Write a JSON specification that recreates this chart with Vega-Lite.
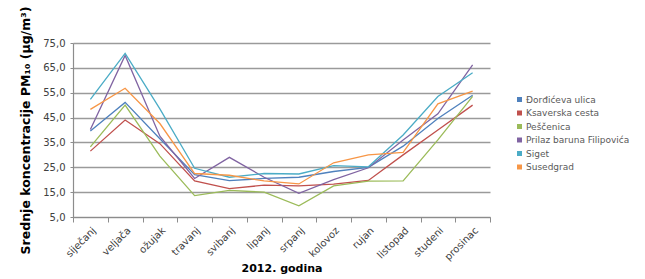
{
  "$schema": "https://vega.github.io/schema/vega-lite/v6.json",
  "autosize": "none",
  "width": 417,
  "height": 174,
  "padding": {"left": 73, "top": 43, "right": 155, "bottom": 62},
  "background": "white",
  "config": {
    "font": "DejaVu Sans",
    "view": {"stroke": null},
    "axis": {"labelColor": "#404040", "titleColor": "#000000", "domainColor": "#8c8c8c", "tickColor": "#8c8c8c"}
  },
  "data": {
    "values": [
      {"m": "siječanj", "s": "Đorđićeva ulica", "v": 39.6},
      {"m": "veljača", "s": "Đorđićeva ulica", "v": 51.1},
      {"m": "ožujak", "s": "Đorđićeva ulica", "v": 36.5},
      {"m": "travanj", "s": "Đorđićeva ulica", "v": 22.0},
      {"m": "svibanj", "s": "Đorđićeva ulica", "v": 19.6},
      {"m": "lipanj", "s": "Đorđićeva ulica", "v": 20.5},
      {"m": "srpanj", "s": "Đorđićeva ulica", "v": 21.0},
      {"m": "kolovoz", "s": "Đorđićeva ulica", "v": 23.3},
      {"m": "rujan", "s": "Đorđićeva ulica", "v": 25.0},
      {"m": "listopad", "s": "Đorđićeva ulica", "v": 33.5},
      {"m": "studeni", "s": "Đorđićeva ulica", "v": 44.6},
      {"m": "prosinac", "s": "Đorđićeva ulica", "v": 54.0},
      {"m": "siječanj", "s": "Ksaverska cesta", "v": 31.5},
      {"m": "veljača", "s": "Ksaverska cesta", "v": 44.0},
      {"m": "ožujak", "s": "Ksaverska cesta", "v": 34.5},
      {"m": "travanj", "s": "Ksaverska cesta", "v": 19.5},
      {"m": "svibanj", "s": "Ksaverska cesta", "v": 16.4},
      {"m": "lipanj", "s": "Ksaverska cesta", "v": 17.8},
      {"m": "srpanj", "s": "Ksaverska cesta", "v": 17.5},
      {"m": "kolovoz", "s": "Ksaverska cesta", "v": 18.2},
      {"m": "rujan", "s": "Ksaverska cesta", "v": 19.7},
      {"m": "listopad", "s": "Ksaverska cesta", "v": 30.0},
      {"m": "studeni", "s": "Ksaverska cesta", "v": 40.0},
      {"m": "prosinac", "s": "Ksaverska cesta", "v": 50.0},
      {"m": "siječanj", "s": "Peščenica", "v": 33.2},
      {"m": "veljača", "s": "Peščenica", "v": 50.0},
      {"m": "ožujak", "s": "Peščenica", "v": 29.5},
      {"m": "travanj", "s": "Peščenica", "v": 13.6},
      {"m": "svibanj", "s": "Peščenica", "v": 15.7},
      {"m": "lipanj", "s": "Peščenica", "v": 15.0},
      {"m": "srpanj", "s": "Peščenica", "v": 9.5},
      {"m": "kolovoz", "s": "Peščenica", "v": 17.5},
      {"m": "rujan", "s": "Peščenica", "v": 19.4},
      {"m": "listopad", "s": "Peščenica", "v": 19.5},
      {"m": "studeni", "s": "Peščenica", "v": 36.0},
      {"m": "prosinac", "s": "Peščenica", "v": 53.5},
      {"m": "siječanj", "s": "Prilaz baruna Filipovića", "v": 40.2},
      {"m": "veljača", "s": "Prilaz baruna Filipovića", "v": 70.0},
      {"m": "ožujak", "s": "Prilaz baruna Filipovića", "v": 37.5},
      {"m": "travanj", "s": "Prilaz baruna Filipovića", "v": 20.5},
      {"m": "svibanj", "s": "Prilaz baruna Filipovića", "v": 29.0},
      {"m": "lipanj", "s": "Prilaz baruna Filipovića", "v": 21.0},
      {"m": "srpanj", "s": "Prilaz baruna Filipovića", "v": 14.5},
      {"m": "kolovoz", "s": "Prilaz baruna Filipovića", "v": 20.0},
      {"m": "rujan", "s": "Prilaz baruna Filipovića", "v": 24.8},
      {"m": "listopad", "s": "Prilaz baruna Filipovića", "v": 36.0},
      {"m": "studeni", "s": "Prilaz baruna Filipovića", "v": 46.5},
      {"m": "prosinac", "s": "Prilaz baruna Filipovića", "v": 66.2},
      {"m": "siječanj", "s": "Siget", "v": 52.3},
      {"m": "veljača", "s": "Siget", "v": 70.8},
      {"m": "ožujak", "s": "Siget", "v": 48.5},
      {"m": "travanj", "s": "Siget", "v": 24.6},
      {"m": "svibanj", "s": "Siget", "v": 21.0},
      {"m": "lipanj", "s": "Siget", "v": 22.5},
      {"m": "srpanj", "s": "Siget", "v": 22.3},
      {"m": "kolovoz", "s": "Siget", "v": 25.7},
      {"m": "rujan", "s": "Siget", "v": 25.2},
      {"m": "listopad", "s": "Siget", "v": 38.0},
      {"m": "studeni", "s": "Siget", "v": 53.5},
      {"m": "prosinac", "s": "Siget", "v": 63.0},
      {"m": "siječanj", "s": "Susedgrad", "v": 48.3},
      {"m": "veljača", "s": "Susedgrad", "v": 56.8},
      {"m": "ožujak", "s": "Susedgrad", "v": 42.6},
      {"m": "travanj", "s": "Susedgrad", "v": 22.5},
      {"m": "svibanj", "s": "Susedgrad", "v": 21.8},
      {"m": "lipanj", "s": "Susedgrad", "v": 19.5},
      {"m": "srpanj", "s": "Susedgrad", "v": 18.3},
      {"m": "kolovoz", "s": "Susedgrad", "v": 26.8},
      {"m": "rujan", "s": "Susedgrad", "v": 30.0},
      {"m": "listopad", "s": "Susedgrad", "v": 31.0},
      {"m": "studeni", "s": "Susedgrad", "v": 50.5},
      {"m": "prosinac", "s": "Susedgrad", "v": 55.6}
    ]
  },
  "mark": {"type": "line", "strokeWidth": 1.3},
  "encoding": {
    "x": {
      "field": "m",
      "type": "nominal",
      "sort": null,
      "bandPosition": 0.5,
      "scale": {"type": "band", "paddingInner": 0, "paddingOuter": 0},
      "axis": {
        "title": "2012. godina",
        "titleFontSize": 11,
        "titleFontWeight": "bold",
        "titlePadding": 1,
        "labelAngle": -45,
        "labelFontSize": 10,
        "labelPadding": 3,
        "tickBand": "extent",
        "tickSize": 5,
        "grid": false,
        "domainWidth": 1.2
      }
    },
    "y": {
      "field": "v",
      "type": "quantitative",
      "scale": {"domain": [5, 75], "nice": false, "zero": false},
      "axis": {
        "title": "Srednje koncentracije PM₁₀ (μg/m³)",
        "titleFontSize": 12.5,
        "titleFontWeight": "bold",
        "titlePadding": 10,
        "values": [5, 15, 25, 35, 45, 55, 65, 75],
        "labelExpr": "replace(format(datum.value, '.1f'), '.', ',')",
        "labelFontSize": 10,
        "labelPadding": 5,
        "tickSize": 3,
        "grid": true,
        "gridColor": "#9a9a9a",
        "gridWidth": 1.3,
        "domainWidth": 1.2
      }
    },
    "color": {
      "field": "s",
      "type": "nominal",
      "scale": {
        "domain": ["Đorđićeva ulica", "Ksaverska cesta", "Peščenica", "Prilaz baruna Filipovića", "Siget", "Susedgrad"],
        "range": ["#4F81BD", "#C0504D", "#9BBB59", "#8064A2", "#4BACC6", "#F79646"]
      },
      "legend": {
        "title": null,
        "orient": "none",
        "legendX": 442,
        "legendY": 52,
        "symbolType": "square",
        "symbolSize": 25,
        "labelFontSize": 9,
        "labelColor": "#595959",
        "labelOffset": 2,
        "rowPadding": 3.5,
        "labelLimit": 200,
        "encode": {
          "symbols": {
            "update": {
              "fill": {"scale": "color", "field": "value"},
              "strokeWidth": {"value": 0}
            }
          }
        }
      }
    }
  }
}
